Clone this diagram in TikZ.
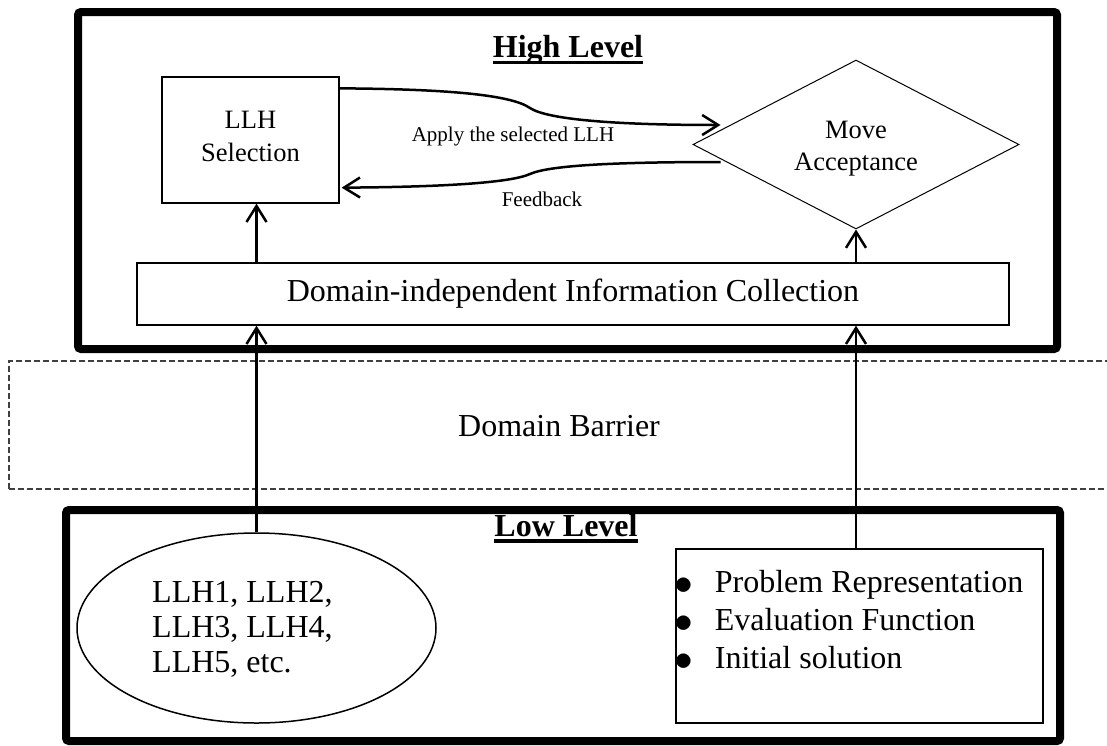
\documentclass[tikz,border=0pt]{standalone}
\usepackage{fontspec}
\setmainfont{Liberation Serif}
\usetikzlibrary{arrows.meta,shapes.geometric,calc}
\newcommand{\bigbul}{\raisebox{-2pt}{\scalebox{1.5}{$\bullet$}}}
\begin{document}
\begin{tikzpicture}[x=1pt,y=-1pt,
  thinbox/.style={draw, line width=1.3pt, inner sep=0pt},
  frame/.style={draw, line width=8pt, rounded corners=3pt, inner sep=0pt},
  conn/.style={line width=2.5pt, -{Straight Barb[length=16pt,width=20pt]}},
  big/.style={font=\fontsize{32}{35}\selectfont},
  bigl/.style={font=\fontsize{32}{38}\selectfont},
  mid/.style={font=\fontsize{26.5}{33}\selectfont},
  small/.style={font=\fontsize{21}{25}\selectfont},
  title/.style={font=\fontsize{32}{38}\selectfont\bfseries, inner sep=0pt, anchor=base},
  uline/.style={line width=3.3pt},
]
\clip (0,0) rectangle (1107,745);
\fill[white] (0,0) rectangle (1107,745);

% domain barrier
\node[draw=black!75, dash pattern=on 6pt off 3pt, line width=1.2pt,
      minimum width=1108pt, minimum height=128pt, inner sep=0pt] (barrier) at (563,425) {};
\node[big, inner sep=0pt] (barriertext) at (559,426) {Domain Barrier};

% frames
\node[frame, minimum width=979pt, minimum height=337pt] (high) at (567.5,180.5) {};
\node[frame, minimum width=994pt, minimum height=231pt] (low) at (563,625.5) {};

% titles
\node[title] (hltitle) at (568,57) {High Level};
\draw[uline] ([yshift=-5.6pt]hltitle.base west) -- ([yshift=-5.6pt]hltitle.base east);
\node[title] (lltitle) at (566,536) {Low Level};
\draw[uline] ([yshift=-5pt]lltitle.base west) -- ([yshift=-5pt]lltitle.base east);

% high level content
\node[thinbox, minimum width=177pt, minimum height=126pt] (llh) at (250.5,140) {};
\node[mid, inner sep=0pt, anchor=base] (llhtext) at (250.5,128.3)
  {\begin{tabular}[t]{@{}c@{}}LLH\\Selection\end{tabular}};
\node[diamond, draw, line width=1pt, minimum width=326pt, minimum height=169pt, inner sep=0pt] (ma) at (856,144.5) {};
\node[font=\fontsize{26.5}{31.7}\selectfont, inner sep=0pt, anchor=base] (matext) at (856,138.3)
  {\begin{tabular}[t]{@{}c@{}}Move\\Acceptance\end{tabular}};
\node[thinbox, minimum width=872pt, minimum height=62pt] (dic) at (573,294) {};
\node[big, inner sep=0pt, anchor=base] (dictext) at (573,301.5) {Domain-independent Information Collection};

% low level content
\node[ellipse, draw, line width=1.5pt, minimum width=359pt, minimum height=190pt] (ell) at (256.5,628) {};
\node[big, inner sep=0pt, anchor=base west] (elltext) at (152,602)
  {\begin{tabular}[t]{@{}l@{}}LLH1, LLH2,\\LLH3, LLH4,\\LLH5, etc.\end{tabular}};
\node[thinbox, minimum width=367pt, minimum height=174pt] (ops) at (859.5,636) {};
\node[bigl, inner sep=0pt, anchor=base west] (opstext) at (674,592)
  {\begin{tabular}[t]{@{}l@{\hspace{22pt}}l@{}}\bigbul & Problem Representation\\
   \bigbul & Evaluation Function\\ \bigbul & Initial solution\end{tabular}};

% curved arrows
\draw[conn] ([yshift=-12pt]llh.north east) .. controls (440,89) and (510,94) .. (530,108)
   .. controls (548,120) and (620,125) .. ([xshift=28pt,yshift=19.5pt]ma.west);
\draw[conn] ([xshift=28pt,yshift=-17.5pt]ma.west) .. controls (620,162) and (550,165) .. (530,174)
   .. controls (510,183) and (440,187) .. ([xshift=2pt,yshift=16pt]llh.south east);
\node[small, anchor=base] (applylbl) at (513,141.7) {Apply the selected LLH};
\node[small, anchor=base] (fblbl) at (542,206) {Feedback};

% vertical arrows
\draw[conn] (dic.north -| ell.north) -- (llh.south -| ell.north);
\draw[conn] (dic.north -| ma.south) -- (ma.south);
\draw[conn] (ell.north) -- (ell.north |- dic.south);
\draw[conn] (ops.north -| ma.south) -- (ma.south |- dic.south);
\end{tikzpicture}
\end{document}
